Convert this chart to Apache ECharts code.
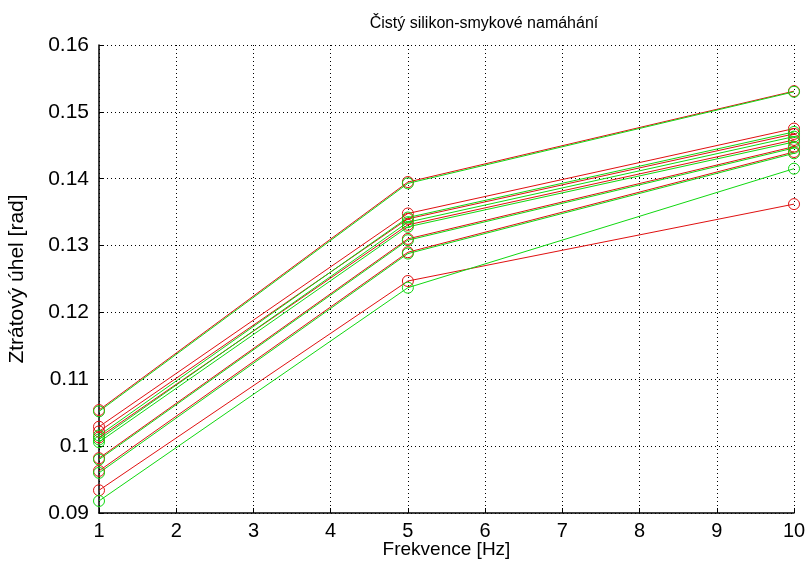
<!DOCTYPE html>
<html>
<head>
<meta charset="utf-8">
<script src="https://cdn.jsdelivr.net/npm/echarts@6/dist/echarts.min.js"></script>
<style>
  html, body { margin: 0; padding: 0; background: #fff; }
  #chart { width: 806px; height: 563px; }
</style>
</head>
<body>
<div id="chart"></div>
<script>
// Frequencies of the measurement points [Hz]
const frequencies = [1, 5, 10];

// Loss angle [rad], one row per measurement run
const redRuns = [
  [0.1054, 0.1395, 0.1531],
  [0.1029, 0.1348, 0.1475],
  [0.1022, 0.1340, 0.1467],
  [0.1013, 0.1331, 0.1458],
  [0.0982, 0.1310, 0.1448],
  [0.0963, 0.1290, 0.1440],
  [0.0934, 0.1247, 0.1362]
];
const greenRuns = [
  [0.1052, 0.1393, 0.1530],
  [0.1016, 0.1342, 0.1470],
  [0.1010, 0.1335, 0.1463],
  [0.1006, 0.1328, 0.1455],
  [0.0980, 0.1308, 0.1446],
  [0.0960, 0.1288, 0.1438],
  [0.0918, 0.1237, 0.1415]
];

const xTicks = [1, 2, 3, 4, 5, 6, 7, 8, 9, 10];
const yTicks = [0.09, 0.10, 0.11, 0.12, 0.13, 0.14, 0.15, 0.16];

const FONT = '"Liberation Sans", Arial, sans-serif';
const RED = '#e01010';
const GREEN = '#10d810';

function makeSeries(runs, color) {
  return runs.map(function (run) {
    return {
      type: 'line',
      data: frequencies.map(function (f, i) { return [f, run[i]]; }),
      symbol: 'circle',
      symbolSize: 11,
      showAllSymbol: true,
      lineStyle: { color: color, width: 1 },
      itemStyle: { color: 'rgba(0,0,0,0)', borderColor: color, borderWidth: 1 },
      emphasis: { disabled: true },
      animation: false
    };
  });
}

const chart = echarts.init(document.getElementById('chart'), null, { renderer: 'canvas' });

const dotted = { type: [1, 3], color: '#000', width: 1 };

chart.setOption({
  backgroundColor: '#fff',
  animation: false,
  title: {
    text: 'Čistý silikon-smykové namáhání',
    left: 479,
    textAlign: 'center',
    top: 11,
    textStyle: { fontFamily: FONT, fontSize: 16, fontWeight: 'normal', color: '#000' }
  },
  grid: {
    left: 99, right: 12, top: 45, bottom: 50,
    containLabel: false,
    outerBoundsMode: 'none'
  },
  xAxis: {
    type: 'value',
    min: xTicks[0],
    max: xTicks[xTicks.length - 1],
    interval: 1,
    name: 'Frekvence [Hz]',
    nameLocation: 'middle',
    nameGap: 27,
    nameMoveOverlap: false,
    nameTextStyle: { fontFamily: FONT, fontSize: 19, color: '#000', verticalAlign: 'top' },
    axisLine: { lineStyle: { color: '#000', width: 1.5 } },
    axisTick: { inside: true, length: 5, lineStyle: { color: '#000' } },
    axisLabel: { fontFamily: FONT, fontSize: 20, color: '#000', margin: 8 },
    splitLine: { show: true, lineStyle: dotted }
  },
  yAxis: {
    type: 'value',
    min: yTicks[0],
    max: yTicks[yTicks.length - 1],
    interval: 0.01,
    name: 'Ztrátový úhel [rad]',
    nameLocation: 'middle',
    nameGap: 71,
    nameMoveOverlap: false,
    nameTextStyle: { fontFamily: FONT, fontSize: 21, color: '#000' },
    axisLine: { show: true, lineStyle: { color: '#000', width: 1.5 } },
    axisTick: { show: true, inside: true, length: 5, lineStyle: { color: '#000' } },
    axisLabel: {
      fontFamily: FONT, fontSize: 21, color: '#000', margin: 10,
      formatter: function (v) { return String(parseFloat(v.toFixed(2))); }
    },
    splitLine: { show: true, lineStyle: dotted }
  },
  series: makeSeries(redRuns, RED).concat(makeSeries(greenRuns, GREEN))
});
</script>
</body>
</html>
